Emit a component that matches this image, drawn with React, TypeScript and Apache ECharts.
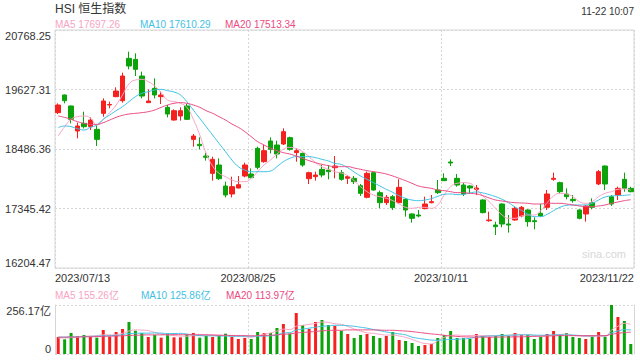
import React, { useEffect, useRef } from "react";
import * as echarts from "echarts";

// ---- data ----
const xTickLabels = ["2023/07/13", "2023/08/25", "2023/10/11", "2023/11/22"];
const yTickLabels = ["16204.47", "17345.42", "18486.36", "19627.31", "20768.25"];
const volTickLabels = ["0", "256.17亿"];

// [open, close, low, high]
const ohlc: number[][] = [
  [19183, 19330, 19157, 19362], [19522, 19413, 19362, 19530], [19311, 19055, 18978, 19320],
  [18831, 18927, 18691, 18991], [18978, 18914, 18882, 19202], [18914, 19042, 18850, 19093],
  [18863, 18671, 18544, 18946], [19170, 19407, 19106, 19458], [19330, 19340, 19266, 19394],
  [19490, 19598, 19480, 19669], [19413, 19886, 19375, 19950], [20225, 20078, 20014, 20353],
  [20205, 20014, 19886, 20321], [19886, 19502, 19458, 19969], [19375, 19407, 19370, 19630],
  [19650, 19522, 19458, 19841], [19490, 19522, 19349, 19586], [19285, 19157, 19093, 19330],
  [19042, 19221, 19030, 19247], [19119, 19221, 19030, 19285], [19311, 19055, 19042, 19349],
  [18671, 18735, 18531, 18774], [18576, 18550, 18480, 18710], [18352, 18327, 18263, 18416],
  [18019, 18288, 17879, 18339], [18179, 17917, 17892, 18307], [17777, 17604, 17559, 17860],
  [17623, 17764, 17559, 17956], [17738, 17802, 17732, 17968], [17968, 18179, 17943, 18224],
  [18007, 17937, 17924, 18115], [18499, 18135, 18096, 18531], [18243, 18454, 18224, 18563],
  [18640, 18480, 18403, 18710], [18563, 18390, 18307, 18646], [18582, 18819, 18563, 18883],
  [18704, 18480, 18454, 18723], [18416, 18454, 18243, 18499], [18403, 18179, 18147, 18416],
  [17917, 18032, 17815, 18051], [17956, 17988, 17879, 18051], [18096, 17988, 17943, 18179],
  [18083, 18051, 17905, 18179], [18128, 18160, 17924, 18352], [18033, 17905, 17879, 18083],
  [17924, 17956, 17815, 17988], [17924, 17860, 17815, 17969], [17783, 17636, 17585, 17815],
  [17560, 18020, 17540, 18052], [18033, 17700, 17687, 18052], [17649, 17457, 17349, 17687],
  [17457, 17560, 17412, 17604], [17572, 17361, 17317, 17604], [17457, 17751, 17445, 17905],
  [17521, 17317, 17189, 17540], [17240, 17157, 17074, 17253], [17221, 17202, 17176, 17317],
  [17343, 17432, 17330, 17572], [17457, 17477, 17445, 17604], [17700, 17649, 17624, 17892],
  [17924, 17879, 17879, 18020], [18237, 18218, 18160, 18288], [17924, 17796, 17764, 18007],
  [17796, 17623, 17585, 17841], [17777, 17738, 17636, 17796], [17713, 17738, 17604, 17796],
  [17509, 17266, 17253, 17521], [17112, 17125, 17093, 17285], [17029, 16997, 16837, 17093],
  [17432, 17048, 16984, 17445], [17048, 17029, 16882, 17221], [17125, 17349, 17112, 17381],
  [17202, 17368, 17176, 17394], [17317, 17093, 16997, 17330], [17112, 17093, 16946, 17176],
  [17253, 17202, 17189, 17432], [17368, 17624, 17317, 17700], [17905, 17924, 17879, 18033],
  [17841, 17668, 17636, 17860], [17623, 17572, 17521, 17732], [17521, 17496, 17457, 17604],
  [17317, 17157, 17138, 17330], [17240, 17394, 17093, 17413], [17457, 17368, 17330, 17540],
  [17815, 18052, 17796, 18084], [18160, 17815, 17700, 18170], [17572, 17432, 17394, 17604],
  [17604, 17732, 17508, 17764], [17905, 17732, 17668, 18033], [17732, 17668, 17656, 17764],
];

const ma5 = [
  18735, 18914, 19055, 19106, 19119, 19080, 18946, 19055, 19183, 19330,
  19522, 19733, 19809, 19822, 19777, 19694, 19566, 19426, 19394, 19362,
  19285, 19055, 18755, 18403, 18160, 18020, 17956, 17892, 17860, 17860,
  17924, 18051, 18179, 18275, 18390, 18480, 18518, 18493, 18435, 18339,
  18224, 18147, 18096, 18051, 18025, 17975, 17879, 17764, 17668, 17604,
  17572, 17540, 17496, 17432, 17368, 17349, 17368, 17368, 17349, 17413,
  17604, 17764, 17828, 17841, 17828, 17713, 17585, 17477, 17349, 17221,
  17157, 17157, 17202, 17221, 17221, 17304, 17457, 17585, 17636, 17624,
  17572, 17477, 17445, 17477, 17572, 17636, 17668, 17713, 17720, 17697.26,
];
const ma10 = [
  18895, 18927, 18914, 18876, 18850, 18901, 18946, 19055, 19138, 19221,
  19298, 19394, 19490, 19554, 19585, 19618, 19630, 19605, 19579, 19522,
  19394, 19234, 19074, 18914, 18755, 18595, 18435, 18275, 18147, 18083,
  18051, 18051, 18051, 18064, 18147, 18243, 18307, 18339, 18339, 18339,
  18320, 18288, 18256, 18211, 18190, 18128, 18045, 17969, 17905, 17841,
  17777, 17713, 17655, 17591, 17540, 17508, 17496, 17508, 17534, 17579,
  17617, 17624, 17611, 17617, 17643, 17662, 17643, 17611, 17572, 17521,
  17457, 17374, 17310, 17240, 17189, 17189, 17234, 17304, 17368, 17406,
  17413, 17413, 17413, 17445, 17509, 17566, 17585, 17592, 17598, 17610.29,
];
const ma20 = [
  19119, 19093, 19055, 19010, 18978, 18959, 18959, 18991, 19042, 19093,
  19132, 19157, 19170, 19183, 19202, 19234, 19285, 19330, 19362, 19375,
  19362, 19330, 19285, 19221, 19170, 19106, 19042, 18965, 18902, 18819,
  18723, 18627, 18563, 18499, 18454, 18416, 18390, 18352, 18307, 18263,
  18224, 18192, 18167, 18147, 18148, 18148, 18122, 18097, 18071, 18052,
  18033, 18007, 17969, 17924, 17879, 17828, 17777, 17751, 17732, 17700,
  17687, 17668, 17649, 17649, 17636, 17624, 17592, 17547, 17508, 17489,
  17470, 17457, 17451, 17445, 17432, 17432, 17445, 17445, 17445, 17432,
  17413, 17394, 17381, 17381, 17394, 17413, 17445, 17470, 17496, 17513.34,
];

// volume, 亿
const volume = [
  88.9, 76.8, 109.8, 94.1, 99.3, 88.9, 85.4, 125.5, 90.6, 115,
  130.7, 167.3, 122, 109.8, 88.9, 99.3, 85.4, 106.3, 87.1, 87.1,
  101.1, 109.8, 85.4, 94.1, 88.9, 94.1, 106.3, 88.9, 78.4, 83.6,
  78.4, 115, 109.8, 109.8, 135.9, 156.8, 106.3, 214.3, 151.6, 130.7,
  167.3, 177.8, 151.6, 146.4, 120.2, 104.6, 83.6, 99.3, 104.6, 94.1,
  83.6, 94.1, 115, 73.2, 68, 57.5, 41.8, 47, 52.3, 83.6,
  99.3, 120.2, 83.6, 83.6, 78.4, 104.6, 94.1, 88.9, 94.1, 104.6,
  94.1, 109.8, 99.3, 99.3, 78.4, 88.9, 104.6, 120.2, 99.3, 109.8,
  88.9, 83.6, 78.4, 94.1, 115, 88.9, 256.2, 193.4, 172.5, 52.3,
];
const volMa5 = [
  84, 84, 86, 88, 92, 94, 96, 100, 100, 101,
  108, 120, 126, 125, 122, 113, 104, 100, 96, 94,
  93, 96, 96, 100, 100, 98, 96, 94, 92, 90,
  88, 95, 104, 110, 120, 130, 128, 145, 150, 155,
  160, 167, 165, 158, 155, 144, 131, 120, 111, 108,
  103, 99, 99, 94, 87, 76, 64, 55, 53, 69,
  87, 96, 99, 97, 97, 97, 96, 96, 96, 97,
  98, 100, 101, 101, 96, 94, 96, 98, 102, 104,
  97, 94, 91, 91, 94, 92, 125, 145, 160, 155.26,
];
const volMa10 = [
  88, 88, 89, 90, 91, 92, 93, 95, 96, 97,
  101, 107, 108, 109, 109, 110, 109, 107, 107, 108,
  104, 100, 96, 95, 95, 94, 94, 93, 93, 93,
  93, 93, 94, 95, 100, 110, 112, 125, 130, 135,
  140, 145, 147, 150, 150, 148, 145, 140, 135, 128,
  122, 115, 110, 105, 100, 88, 82, 77, 73, 72,
  74, 76, 77, 79, 82, 88, 92, 94, 95, 97,
  98, 99, 100, 100, 99, 98, 99, 100, 100, 100,
  99, 97, 95, 95, 96, 95, 110, 120, 127, 125.86,
];
const volMa20 = [
  88, 88, 89, 89, 90, 90, 91, 92, 93, 94,
  95, 97, 98, 99, 100, 100, 100, 101, 101, 101,
  101, 101, 101, 100, 99, 98, 98, 97, 97, 96,
  95, 96, 97, 98, 100, 103, 105, 110, 113, 115,
  118, 121, 123, 124, 124, 126, 126, 126, 126, 126,
  125, 124, 124, 122, 120, 117, 113, 109, 105, 102,
  98, 95, 92, 90, 89, 88, 88, 88, 88, 89,
  89, 90, 90, 91, 92, 93, 94, 95, 96, 96,
  96, 96, 96, 96, 96, 96, 103, 108, 112, 113.97,
];

const categories = ohlc.map((_, i) => String(i));

const UP = "#f5211e";
const DOWN = "#0aa30a";
const C_MA5 = "#f8a3c3";
const C_MA10 = "#3fc1e3";
const C_MA20 = "#ea4a82";
const GRID_LINE = "#d6d6d6";
const FONT = '"Liberation Sans", Arial, "Noto Sans CJK SC", sans-serif';

const yMin = 16204.47;
const yMax = 20768.25;
const yInterval = (yMax - yMin) / 4;
const volMax = 256.17;

export default function App() {
  const ref = useRef<HTMLDivElement>(null);
  useEffect(() => {
    document.body.style.margin = "0";
    const chart = echarts.init(ref.current!, null, { renderer: "svg" });
    const dashed = { show: true, lineStyle: { color: GRID_LINE, type: [2, 2] as any, width: 1 } };
    const hiddenAxis = {
      position: "top",
      axisLine: { show: false },
      axisTick: { show: false },
      axisLabel: { show: false },
      splitLine: { show: false },
    };
    const lineSeries = (name: string, data: number[], color: string, xi: number, yi: number) => ({
      name,
      type: "line",
      data,
      xAxisIndex: xi,
      yAxisIndex: yi,
      smooth: true,
      symbol: "none",
      lineStyle: { color, width: 1 },
      silent: true,
      z: 3,
    });
    const text = (t: string, x: number, y: number, color: string, size: number, align = "left") => ({
      type: "text",
      x,
      y,
      silent: true,
      style: { text: t, fill: color, font: `${size}px ${FONT}`, align, verticalAlign: "middle" },
    });
    const option: any = {
      animation: false,
      backgroundColor: "#ffffff",
      textStyle: { fontFamily: FONT },
      grid: [
        { left: 55, right: 6, top: 30, height: 238, show: true, borderColor: GRID_LINE, borderWidth: 1 },
        { left: 55, right: 6, top: 305, height: 49, show: false },
      ],
      xAxis: [
        { type: "category", gridIndex: 0, data: categories, boundaryGap: true, ...hiddenAxis },
        {
          type: "value",
          gridIndex: 0,
          position: "bottom",
          min: 0,
          max: 90,
          interval: 30,
          axisLine: { show: false },
          axisTick: { show: false },
          axisLabel: {
            show: true,
            formatter: (v: number) => xTickLabels[Math.round(v / 30)] ?? "",
            color: "#333",
            fontSize: 11,
            margin: 4,
            alignMinLabel: "left",
            alignMaxLabel: "right",
            showMinLabel: true,
            showMaxLabel: true,
          },
          splitLine: dashed,
        },
        { type: "category", gridIndex: 1, data: categories, boundaryGap: true, ...hiddenAxis },
        {
          type: "value",
          gridIndex: 1,
          position: "bottom",
          min: 0,
          max: 90,
          interval: 30,
          axisLine: { show: false },
          axisTick: { show: false },
          axisLabel: { show: false },
          splitLine: dashed,
        },
      ],
      yAxis: [
        {
          type: "value",
          gridIndex: 0,
          min: yMin,
          max: yMax,
          interval: yInterval,
          axisLine: { show: false },
          axisTick: { show: false },
          axisLabel: {
            formatter: (v: number) => yTickLabels[Math.round((v - yMin) / yInterval)] ?? "",
            color: "#333",
            fontSize: 11,
            margin: 4,
            verticalAlignMinLabel: "bottom",
            verticalAlignMaxLabel: "top",
            showMinLabel: true,
            showMaxLabel: true,
          },
          splitLine: dashed,
        },
        {
          type: "value",
          gridIndex: 1,
          min: 0,
          max: volMax,
          interval: volMax,
          axisLine: { show: true, lineStyle: { color: GRID_LINE } },
          axisTick: { show: false },
          axisLabel: {
            formatter: (v: number) => (v > 0 ? volTickLabels[1] : volTickLabels[0]),
            color: "#333",
            fontSize: 11,
            margin: 4,
            verticalAlignMinLabel: "bottom",
            verticalAlignMaxLabel: "top",
            showMinLabel: true,
            showMaxLabel: true,
          },
          splitLine: dashed,
        },
        {
          type: "value",
          gridIndex: 1,
          position: "right",
          min: 0,
          max: volMax,
          axisLine: { show: true, lineStyle: { color: GRID_LINE } },
          axisTick: { show: false },
          axisLabel: { show: false },
          splitLine: { show: false },
        },
      ],
      series: [
        {
          name: "K",
          type: "candlestick",
          xAxisIndex: 0,
          yAxisIndex: 0,
          barWidth: 5,
          data: ohlc.map(([o, c, l, h]) => [o, c, l, h]),
          itemStyle: { color: UP, color0: DOWN, borderColor: UP, borderColor0: DOWN, borderWidth: 1 },
          silent: true,
        },
        lineSeries("MA5", ma5, C_MA5, 0, 0),
        lineSeries("MA10", ma10, C_MA10, 0, 0),
        lineSeries("MA20", ma20, C_MA20, 0, 0),
        {
          name: "VOL",
          type: "bar",
          xAxisIndex: 2,
          yAxisIndex: 1,
          barWidth: 3,
          silent: true,
          data: volume.map((v, i) => ({
            value: v,
            itemStyle: { color: ohlc[i][1] >= ohlc[i][0] ? UP : DOWN },
          })),
        },
        lineSeries("VMA5", volMa5, C_MA5, 2, 1),
        lineSeries("VMA10", volMa10, C_MA10, 2, 1),
        lineSeries("VMA20", volMa20, C_MA20, 2, 1),
      ],
      graphic: [
        text("HSI 恒生指数", 55, 9, "#333", 12),
        text("11-22 10:07", 634, 11, "#333", 10, "right"),
        text("MA5 17697.26", 55, 24, C_MA5, 10),
        text("MA10 17610.29", 140, 24, C_MA10, 10),
        text("MA20 17513.34", 225, 24, C_MA20, 10),
        text("MA5 155.26亿", 55, 295, C_MA5, 10),
        text("MA10 125.86亿", 141, 295, C_MA10, 10),
        text("MA20 113.97亿", 226, 295, C_MA20, 10),
        text("sina.com", 626, 254, "#d8d8d8", 11, "right"),
      ],
    };
    chart.setOption(option);
    return () => chart.dispose();
  }, []);
  return <div ref={ref} style={{ width: 640, height: 360 }} />;
}
